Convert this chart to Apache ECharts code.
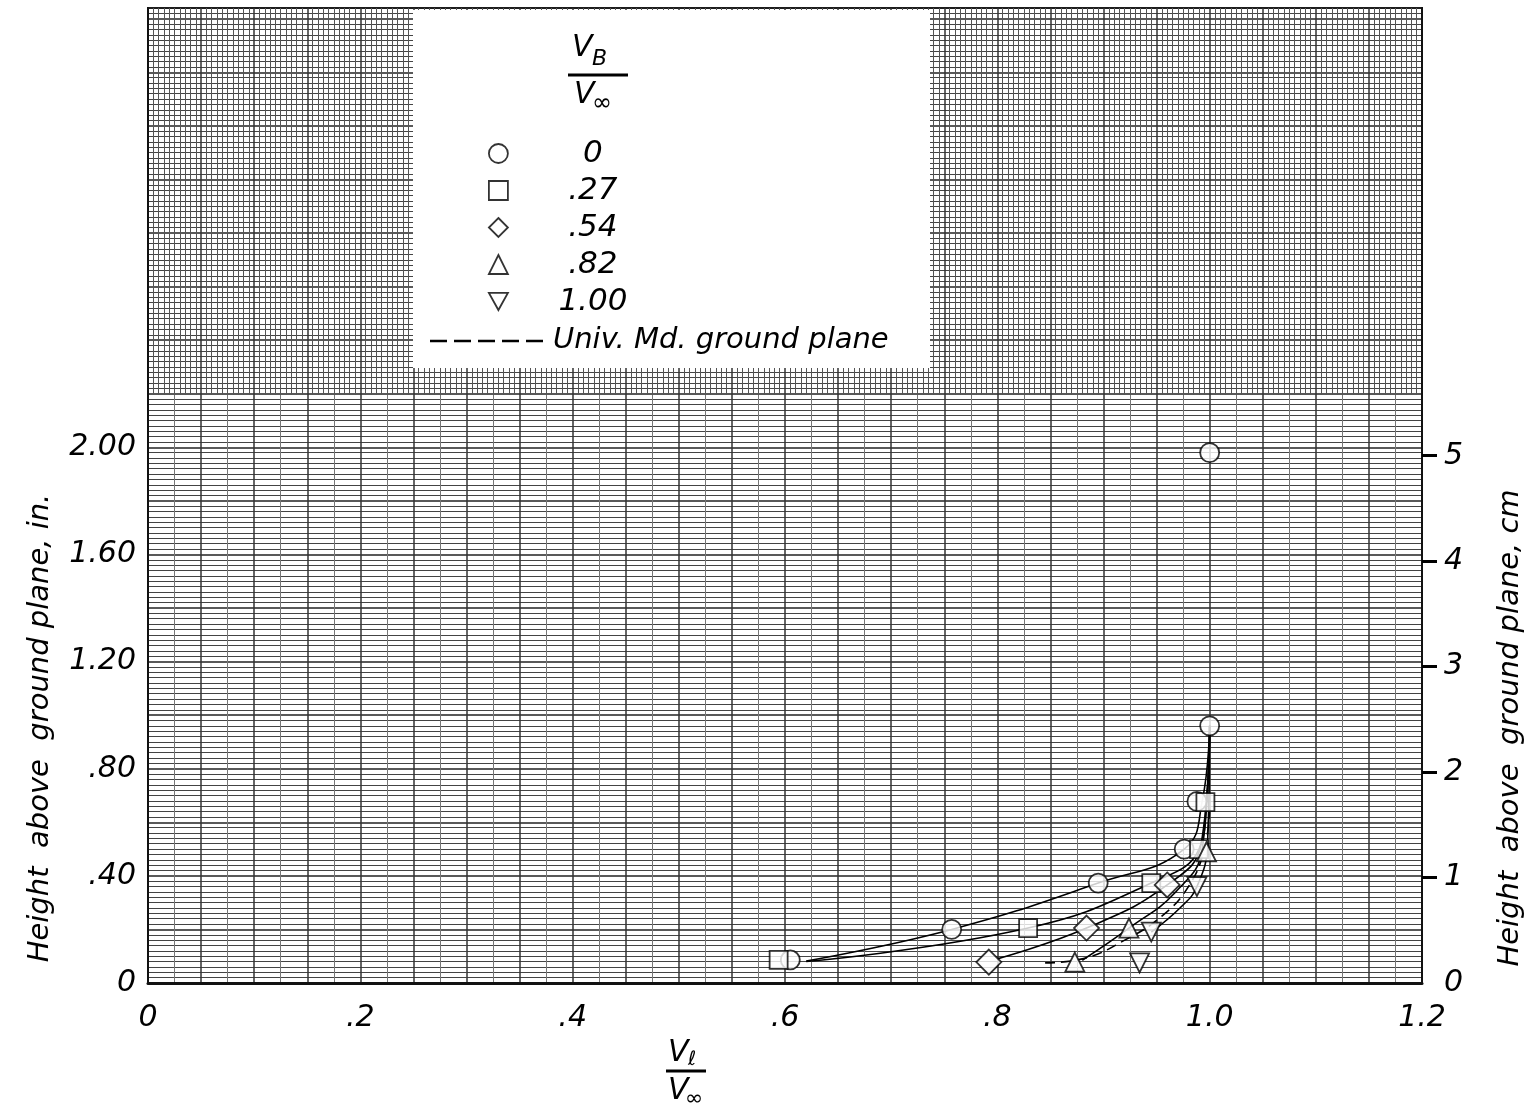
<!DOCTYPE html>
<html>
<head>
<meta charset="utf-8">
<script src="https://cdn.jsdelivr.net/npm/echarts@6/dist/echarts.min.js"></script>
<style>
  html, body { margin: 0; padding: 0; background: #fff; }
  #main { width: 1529px; height: 1112px; }
</style>
</head>
<body>
<div id="main"></div>
<script>
// measured points, V_l/V_inf vs height (in.)
const circleX = [0.605, 0.757, 0.895, 0.976, 0.988, 1.0, 1.0];
const circleY = [0.086, 0.20, 0.373, 0.50, 0.678, 0.96, 1.98];
const squareX = [0.594, 0.829, 0.945, 0.990, 0.996];
const squareY = [0.086, 0.205, 0.373, 0.50, 0.675];
const diamondX = [0.792, 0.884, 0.960];
const diamondY = [0.078, 0.205, 0.366];
const triUpX = [0.873, 0.924, 0.997];
const triUpY = [0.078, 0.205, 0.49];
const triDownX = [0.934, 0.945, 0.988];
const triDownY = [0.075, 0.19, 0.36];

// faired curves
const fit0X = [0.62, 0.757, 0.895, 0.976, 0.993, 1.0];
const fit0Y = [0.082, 0.2, 0.373, 0.5, 0.68, 0.96];
const fit27X = [0.62, 0.829, 0.945, 0.99, 0.997, 1.0];
const fit27Y = [0.08, 0.205, 0.373, 0.5, 0.68, 0.96];
const fit54X = [0.80, 0.884, 0.96, 0.992, 1.0];
const fit54Y = [0.09, 0.205, 0.366, 0.52, 0.96];
const fit82X = [0.88, 0.924, 0.968, 0.993, 1.0];
const fit82Y = [0.085, 0.205, 0.34, 0.5, 0.96];
const fit100X = [0.945, 0.972, 0.988, 0.998, 1.0];
const fit100Y = [0.19, 0.28, 0.36, 0.52, 0.96];
const umdX = [0.845, 0.88, 0.92, 0.955, 0.98, 0.995, 1.0];
const umdY = [0.075, 0.09, 0.16, 0.25, 0.36, 0.5, 0.65];

// ticks
const xTickValues = [0, 0.2, 0.4, 0.6, 0.8, 1.0, 1.2];
const xTickLabels = ['0', '.2', '.4', '.6', '.8', '1.0', '1.2'];
const yTickValues = [0, 0.4, 0.8, 1.2, 1.6, 2.0];
const yTickLabels = ['0', '.40', '.80', '1.20', '1.60', '2.00'];
const cmTickValues = [0, 1, 2, 3, 4, 5];
const cmTickLabels = ['0', '1', '2', '3', '4', '5'];

const legendNames = ['0', '.27', '.54', '.82', '1.00'];
const umdName = 'Univ. Md. ground plane';

const FONT = 'DejaVu Sans';
const Y_MAX = 3.64;

function pairs(xs, ys) {
  return xs.map((x, i) => [x, ys[i]]);
}
function pick(values, labels) {
  return function (v) {
    for (let i = 0; i < values.length; i++) {
      if (Math.abs(values[i] - v) < 1e-6) return labels[i];
    }
    return '';
  };
}

const chart = echarts.init(document.getElementById('main'));

const markStyle = { color: '#fff', borderColor: '#000', borderWidth: 1.8 };
function marks(name, xs, ys, symbol, size) {
  return {
    name: name, type: 'scatter', data: pairs(xs, ys),
    symbol: symbol, symbolSize: size, itemStyle: markStyle, z: 5
  };
}
function curve(name, xs, ys, dashed) {
  return {
    name: name, type: 'line', data: pairs(xs, ys), symbol: 'none',
    smooth: 0.45,
    itemStyle: { color: '#000' },
    lineStyle: { color: '#000', width: 1.6, type: dashed ? [10, 6] : 'solid' },
    z: 4
  };
}

const option = {
  backgroundColor: '#fff',
  animation: false,
  grid: [
    { left: 148, right: 107, top: 8, bottom: 129, show: true, borderColor: '#111', borderWidth: 2 },
    { left: 148, right: 107, top: 8, height: 387 }
  ],
  xAxis: [
    {
      gridIndex: 0, type: 'value', min: 0, max: 1.2, interval: 0.05,
      axisLine: { show: true, lineStyle: { color: '#111', width: 3 } },
      axisTick: { show: false },
      axisLabel: {
        customValues: xTickValues, formatter: pick(xTickValues, xTickLabels),
        margin: 20, color: '#000', fontFamily: FONT, fontStyle: 'italic', fontSize: 30
      },
      splitLine: { show: true, lineStyle: { color: '#333', width: 1.5 } },
      minorTick: { show: false, splitNumber: 2 },
      minorSplitLine: { show: true, lineStyle: { color: '#777', width: 1 } }
    },
    {
      gridIndex: 1, type: 'value', min: 0, max: 1.2, interval: 0.05,
      axisLine: { show: false }, axisTick: { show: false }, axisLabel: { show: false },
      splitLine: { show: false },
      minorTick: { show: false, splitNumber: 10 },
      minorSplitLine: { show: true, lineStyle: { color: '#555', width: 1 } }
    }
  ],
  yAxis: [
    {
      gridIndex: 0, type: 'value', min: 0, max: Y_MAX, interval: 0.2,
      axisLine: { show: true, lineStyle: { color: '#111', width: 2 } },
      axisTick: { show: false },
      axisLabel: {
        customValues: yTickValues, formatter: pick(yTickValues, yTickLabels),
        margin: 12, color: '#000', fontFamily: FONT, fontStyle: 'italic', fontSize: 30
      },
      splitLine: { show: true, lineStyle: { color: '#222', width: 1.6 } },
      minorTick: { show: false, splitNumber: 10 },
      minorSplitLine: { show: true, lineStyle: { color: '#444', width: 1 } }
    },
    {
      gridIndex: 0, type: 'value', position: 'right', min: 0, max: Y_MAX * 2.54,
      axisLine: { show: true, lineStyle: { color: '#111', width: 2 } },
      axisTick: { show: true, customValues: [1, 2, 3, 4, 5], length: 15, inside: false, lineStyle: { color: '#000', width: 3 } },
      axisLabel: {
        customValues: cmTickValues, formatter: pick(cmTickValues, cmTickLabels),
        margin: 22, color: '#000', fontFamily: FONT, fontStyle: 'italic', fontSize: 30
      },
      splitLine: { show: false }
    },
    {
      gridIndex: 1, type: 'value', min: 0, max: 1,
      axisLine: { show: false }, axisTick: { show: false }, axisLabel: { show: false },
      splitLine: { show: false }
    }
  ],
  legend: [
    {
      data: legendNames.map((n, i) => ({
        name: n,
        icon: ['circle', 'rect', 'diamond', 'triangle', 'path://M0,0 L10,0 L5,9 Z'][i]
      })),
      orient: 'vertical', left: 483, top: 133, itemWidth: 19, itemHeight: 19, itemGap: 6,
      z: 100, selectedMode: false,
      itemStyle: { color: '#fff', borderColor: '#000', borderWidth: 1.8 },
      formatter: n => '{a|' + n + '}',
      textStyle: {
        rich: {
          a: { width: 160, align: 'center', fontFamily: FONT, fontStyle: 'italic', fontSize: 31, lineHeight: 31, color: '#000' }
        }
      }
    }
  ],
  graphic: [
    { type: 'rect', z: 50, shape: { x: 413, y: 10, width: 517, height: 358 }, style: { fill: '#fff' } },
    // legend title V_B / V_inf
    { type: 'text', z: 100, left: 572, top: 33, style: { text: 'V', font: 'italic 30px "DejaVu Sans"', fill: '#000' } },
    { type: 'text', z: 100, left: 592, top: 48, style: { text: 'B', font: 'italic 22px "DejaVu Sans"', fill: '#000' } },
    { type: 'line', z: 100, shape: { x1: 568, y1: 75, x2: 628, y2: 75 }, style: { stroke: '#000', lineWidth: 3 } },
    { type: 'text', z: 100, left: 574, top: 80, style: { text: 'V', font: 'italic 30px "DejaVu Sans"', fill: '#000' } },
    { type: 'text', z: 100, left: 592, top: 92, style: { text: '∞', font: 'italic 24px "DejaVu Sans"', fill: '#000' } },
    // legend key for the dashed curve
    { type: 'line', z: 100, shape: { x1: 430, y1: 341, x2: 545, y2: 341 }, style: { stroke: '#000', lineWidth: 2.5, lineDash: [17, 7] } },
    { type: 'text', z: 100, left: 553, top: 326, style: { text: umdName, font: 'italic 29px "DejaVu Sans"', fill: '#000' } },
    // x axis name V_l / V_inf
    { type: 'text', z: 100, left: 668, top: 1038, style: { text: 'V', font: 'italic 30px "DejaVu Sans"', fill: '#000' } },
    { type: 'text', z: 100, left: 688, top: 1050, style: { text: 'ℓ', font: 'italic 20px "DejaVu Sans"', fill: '#000' } },
    { type: 'line', z: 100, shape: { x1: 666, y1: 1071, x2: 706, y2: 1071 }, style: { stroke: '#000', lineWidth: 3 } },
    { type: 'text', z: 100, left: 668, top: 1076, style: { text: 'V', font: 'italic 30px "DejaVu Sans"', fill: '#000' } },
    { type: 'text', z: 100, left: 685, top: 1088, style: { text: '∞', font: 'italic 22px "DejaVu Sans"', fill: '#000' } },
    // y axis names
    {
      type: 'text', z: 100, x: 40, y: 728, rotation: Math.PI / 2,
      style: { text: 'Height  above  ground plane, in.', font: 'italic 29px "DejaVu Sans"', fill: '#000', align: 'center', verticalAlign: 'middle' }
    },
    {
      type: 'text', z: 100, x: 1510, y: 728, rotation: Math.PI / 2,
      style: { text: 'Height  above  ground plane, cm', font: 'italic 29px "DejaVu Sans"', fill: '#000', align: 'center', verticalAlign: 'middle' }
    }
  ],
  series: [
    curve('fit 0', fit0X, fit0Y, false),
    curve('fit .27', fit27X, fit27Y, false),
    curve('fit .54', fit54X, fit54Y, false),
    curve('fit .82', fit82X, fit82Y, false),
    curve('fit 1.00', fit100X, fit100Y, false),
    curve(umdName, umdX, umdY, true),
    marks('0', circleX, circleY, 'circle', 19),
    marks('.27', squareX, squareY, 'rect', 18),
    marks('.54', diamondX, diamondY, 'diamond', 25),
    marks('.82', triUpX, triUpY, 'triangle', 19),
    marks('1.00', triDownX, triDownY, 'path://M0,0 L10,0 L5,9 Z', 19),
    { type: 'scatter', xAxisIndex: 1, yAxisIndex: 2, data: [], silent: true }
  ]
};

chart.setOption(option);
</script>
</body>
</html>
